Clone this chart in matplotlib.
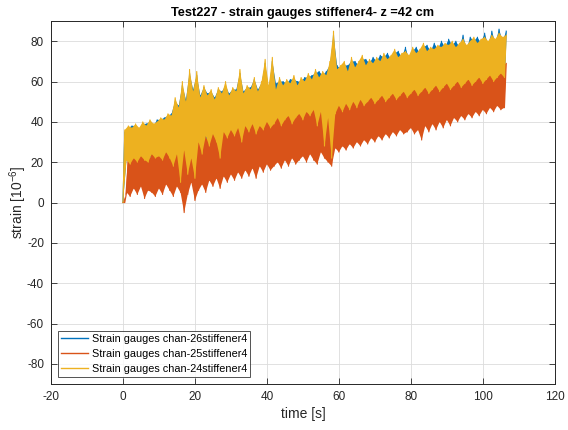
import numpy as np
import matplotlib
matplotlib.use("Agg")
import matplotlib.pyplot as plt

plt.rcParams['font.family'] = ['Liberation Sans', 'DejaVu Sans']
plt.rcParams['axes.unicode_minus'] = False
plt.rcParams['mathtext.fontset'] = 'custom'
plt.rcParams['mathtext.rm'] = 'Liberation Sans'
plt.rcParams['mathtext.it'] = 'Liberation Sans:italic'

# 1秒ごとの上下ピーク値（画像から目視で読み取り）
t_sec = list(range(107))

# chan-24 (黄)
y24_hi = [36, 38, 37, 39, 37, 40, 38, 41, 39, 40,
          42, 41, 44, 43, 52, 47, 60, 50, 66, 55,
          65, 52, 58, 53, 56, 51, 57, 54, 60, 53,
          57, 55, 66, 54, 58, 56, 62, 55, 60, 71,
          58, 72, 56, 62, 58, 61, 59, 63, 58, 62,
          60, 64, 61, 66, 62, 65, 63, 70, 85, 66,
          68, 70, 65, 72, 67, 70, 73, 68, 71, 69,
          72, 70, 74, 71, 73, 76, 72, 74, 75, 73,
          77, 74, 76, 79, 75, 77, 76, 78, 77, 79,
          78, 80, 77, 79, 81, 78, 80, 82, 79, 81,
          82, 80, 83, 81, 84, 82, 83]
y24_lo = [0, 21, 19, 22, 20, 23, 21, 20, 24, 22,
          23, 21, 25, 22, 18, 24, 10, 26, 14, 22,
          12, 30, 24, 33, 28, 34, 30, 22, 35, 32,
          36, 33, 37, 30, 38, 35, 39, 34, 38, 36,
          40, 37, 39, 42, 38, 41, 43, 39, 42, 44,
          41, 45, 43, 46, 38, 45, 28, 42, 22, 44,
          48, 45, 49, 46, 50, 47, 51, 48, 50, 52,
          49, 51, 53, 50, 52, 54, 51, 53, 55, 52,
          54, 56, 53, 55, 57, 54, 56, 58, 55, 57,
          59, 56, 58, 60, 57, 59, 61, 58, 60, 62,
          59, 61, 63, 60, 62, 64, 62]

# chan-25 (橙)
y25_hi = [0, 24, 22, 25, 23, 26, 24, 22, 27, 25,
          26, 24, 28, 25, 30, 27, 33, 29, 31, 28,
          32, 30, 34, 31, 36, 33, 37, 34, 38, 35,
          39, 36, 40, 37, 41, 38, 42, 39, 41, 43,
          42, 40, 44, 41, 45, 43, 46, 44, 47, 45,
          48, 46, 49, 47, 50, 48, 51, 49, 52, 50,
          53, 51, 54, 52, 55, 53, 56, 54, 57, 55,
          58, 56, 59, 57, 60, 58, 61, 59, 62, 60,
          61, 59, 62, 60, 63, 61, 64, 62, 63, 65,
          63, 66, 64, 65, 67, 64, 66, 68, 65, 67,
          68, 66, 69, 67, 70, 68, 69]
y25_lo = [0, 5, 3, 7, 4, 8, 2, 6, 5, 3,
          7, 4, 9, 6, 3, 8, 5, -5, 4, 10,
          1, 6, 9, 5, 11, 8, 12, 7, 13, 10,
          14, 11, 15, 12, 16, 13, 17, 12, 18, 15,
          19, 16, 18, 20, 17, 21, 18, 22, 19, 21,
          23, 20, 24, 21, 19, 25, 22, 20, 18, 27,
          25, 28, 26, 29, 27, 30, 28, 31, 29, 32,
          30, 33, 31, 34, 32, 35, 33, 36, 34, 35,
          37, 34, 36, 31, 38, 35, 39, 36, 40, 37,
          41, 38, 42, 40, 43, 41, 44, 42, 45, 43,
          46, 44, 47, 45, 48, 46, 47]

# chan-26 (青)
y26_hi = [35, 37, 38, 38, 36, 39, 39, 40, 38, 41,
          41, 42, 43, 44, 50, 48, 58, 51, 64, 56,
          63, 53, 57, 54, 55, 52, 56, 55, 58, 54,
          56, 56, 64, 55, 57, 57, 61, 56, 59, 69,
          56, 70, 59, 60, 60, 59, 61, 61, 60, 60,
          62, 62, 63, 64, 65, 63, 65, 68, 83, 68,
          66, 68, 68, 70, 70, 68, 71, 71, 69, 72,
          70, 73, 72, 74, 71, 74, 75, 72, 77, 71,
          75, 77, 74, 77, 78, 75, 79, 76, 80, 77,
          81, 78, 80, 77, 83, 76, 82, 80, 82, 79,
          84, 78, 85, 79, 86, 80, 85]
y26_lo = [0, 22, 20, 21, 21, 22, 22, 21, 23, 23,
          22, 22, 24, 23, 20, 23, 12, 25, 16, 23,
          14, 29, 25, 32, 29, 33, 31, 24, 34, 33,
          35, 34, 36, 31, 37, 36, 38, 35, 37, 37,
          39, 38, 40, 41, 39, 42, 42, 40, 43, 43,
          42, 44, 44, 45, 40, 44, 30, 43, 24, 45,
          47, 46, 48, 47, 49, 48, 50, 49, 51, 51,
          50, 52, 52, 51, 53, 53, 52, 54, 54, 53,
          55, 55, 54, 56, 56, 55, 57, 57, 56, 58,
          58, 57, 59, 59, 58, 60, 60, 59, 61, 61,
          60, 62, 62, 61, 63, 63, 63]

labels = ['Strain gauges chan-26stiffener4',
          'Strain gauges chan-25stiffener4',
          'Strain gauges chan-24stiffener4']
colors = ['#0072BD', '#D95319', '#EDB120']


def zigzag(lo, hi):
    # 下ピーク(t) -> 上ピーク(t+0.5) を交互につなぐ
    t = np.array(t_sec, dtype=float)
    tt = np.column_stack([t, t + 0.5]).ravel()
    yy = np.column_stack([lo, hi]).ravel()
    return tt, yy


fig = plt.figure(figsize=(5.68, 4.30), dpi=100)
ax = fig.add_axes([0.0898, 0.107, 0.887, 0.844])

series = [(y26_lo, y26_hi), (y25_lo, y25_hi), (y24_lo, y24_hi)]
for i, ((lo, hi), c, lab) in enumerate(zip(series, colors, labels)):
    tt, yy = zigzag(lo, hi)
    t = np.array(t_sec, dtype=float)
    # 密な信号なので帯の中を塗りつぶす
    xs = np.concatenate([t + 0.5, t[::-1]])
    ys = np.concatenate([hi, lo[::-1]])
    ax.fill(xs, ys, color=c, linewidth=0, zorder=2 + 2 * i)
    ax.plot(tt, yy, color=c, linewidth=0.8, label=lab, zorder=3 + 2 * i)

ax.set_xlim(-20, 120)
ax.set_ylim(-90, 90)
ax.set_xticks(np.arange(-20, 121, 20))
ax.set_yticks(np.arange(-80, 81, 20))
ax.grid(True, color='#DCDCDC', linewidth=0.6)
ax.set_axisbelow(True)
ax.tick_params(direction='in', top=True, right=True, length=4,
               width=0.6, labelsize=8.5, colors='#262626', pad=5)
for s in ax.spines.values():
    s.set_color('#262626')
    s.set_linewidth(0.7)
    s.set_zorder(20)

ax.set_title('Test227 - strain gauges stiffener4- z =42 cm',
             fontsize=9.2, fontweight='bold', pad=4)
ax.set_xlabel('time [s]', fontsize=10, color='#262626', labelpad=3)
ax.set_ylabel('strain [10$^{-6}$]', fontsize=10, color='#262626')
ax.yaxis.set_label_coords(-0.044, 0.5)

leg = ax.legend(loc='lower left', fontsize=7.8, frameon=True, fancybox=False,
                edgecolor='#262626', handlelength=2.5, borderpad=0.3,
                labelspacing=0.45, handletextpad=0.3,
                bbox_to_anchor=(0.003, 0.004))
leg.get_frame().set_linewidth(0.7)
leg.set_zorder(30)
for ln in leg.get_lines():
    ln.set_linewidth(1.0)

fig.savefig('out.png', dpi=100)
